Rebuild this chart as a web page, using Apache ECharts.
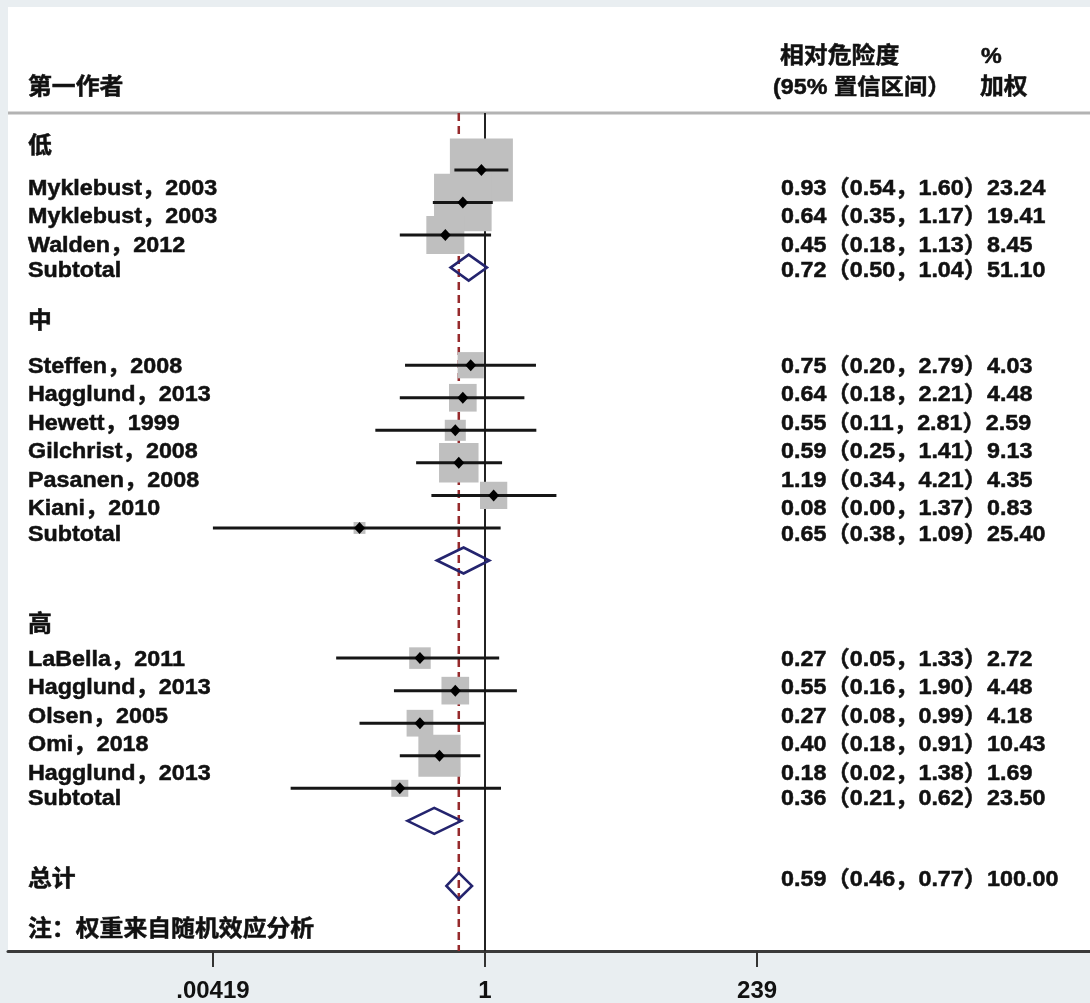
<!DOCTYPE html>
<html>
<head>
<meta charset="utf-8">
<script src="https://cdn.jsdelivr.net/npm/echarts@6/dist/echarts.min.js"></script>
<style>
  html, body { margin: 0; padding: 0; background: #e9eef1; }
  #chart { width: 1090px; height: 1003px; }
</style>
</head>
<body>
<div id="chart"></div>
<script>
// ---------- data ----------
const groupNames = ['低', '中', '高'];
const studyLabels = [
  'Myklebust，2003', 'Myklebust，2003', 'Walden，2012',
  'Steffen，2008', 'Hagglund，2013', 'Hewett，1999', 'Gilchrist，2008', 'Pasanen，2008', 'Kiani，2010',
  'LaBella，2011', 'Hagglund，2013', 'Olsen，2005', 'Omi，2018', 'Hagglund，2013'
];
const studyGroup  = [0, 0, 0, 1, 1, 1, 1, 1, 1, 2, 2, 2, 2, 2];
const studyRR     = [0.93, 0.64, 0.45, 0.75, 0.64, 0.55, 0.59, 1.19, 0.08, 0.27, 0.55, 0.27, 0.40, 0.18];
const studyLow    = [0.54, 0.35, 0.18, 0.20, 0.18, 0.11, 0.25, 0.34, 0.00, 0.05, 0.16, 0.08, 0.18, 0.02];
const studyHigh   = [1.60, 1.17, 1.13, 2.79, 2.21, 2.81, 1.41, 4.21, 1.37, 1.33, 1.90, 0.99, 0.91, 1.38];
const studyWeight = [23.24, 19.41, 8.45, 4.03, 4.48, 2.59, 9.13, 4.35, 0.83, 2.72, 4.48, 4.18, 10.43, 1.69];

const subtotalRR     = [0.72, 0.65, 0.36];
const subtotalLow    = [0.50, 0.38, 0.21];
const subtotalHigh   = [1.04, 1.09, 0.62];
const subtotalWeight = [51.10, 25.40, 23.50];

const overallRR = 0.59, overallLow = 0.46, overallHigh = 0.77, overallWeight = 100.00;

const xTickValues = [1 / 239, 1, 239];
const xTickLabels = ['.00419', '1', '239'];

// ---------- layout ----------
const FONT_FAMILY = '"Liberation Sans", Arial, "Noto Sans CJK SC", sans-serif';
const FONT_SIZE = 22;
const CJK_FONT_SIZE = 22.5;
const TEXT_SCALE_X = 1.06;
const TEXT_COLOR = '#111';
const LEFT_X = 28, RIGHT_X = 781;
const X_LOG_MIN = -4.1696, X_LOG_MAX = 5.2885;   // axis span, in decades
const BOX_SCALE = 13.07;                          // box side (px) per sqrt(weight)
const DIAMOND_HALF_H = 13;

// table rows used by the plotted marks: heading, studies, subtotal, blank line per group
let r = -1;
const headRow = [], studyRow = [], subRow = [];
groupNames.forEach((g, gi) => {
  headRow[gi] = r++;
  studyGroup.forEach((sg, i) => { if (sg === gi) studyRow[i] = r++; });
  subRow[gi] = r++;
  r++;
});
const overallRow = r;

// text lines sit on a slightly tighter pitch than the plotted rows
const TEXT_STEP = 0.875;
const textFirst = [0.58, 6.05, 15.05];
const textHead = [-0.71, 4.67, 13.98];
const TEXT_TOTAL = 21.82, TEXT_NOTE = 23.35;

const fmt = v => v.toFixed(2);
const statText = (rr, lo, hi, w) => `${fmt(rr)}（${fmt(lo)}，${fmt(hi)}）${fmt(w)}`;

const textItems = [];
groupNames.forEach((g, gi) => {
  textItems.push({ col: 0, row: textHead[gi], text: g });
  let k = 0;
  studyGroup.forEach((sg, i) => {
    if (sg !== gi) return;
    const tr = textFirst[gi] + k * TEXT_STEP;
    textItems.push({ col: 0, row: tr, text: studyLabels[i] });
    textItems.push({ col: 1, row: tr, text: statText(studyRR[i], studyLow[i], studyHigh[i], studyWeight[i]) });
    k++;
  });
  const sr = textFirst[gi] + k * TEXT_STEP - 0.1;
  textItems.push({ col: 0, row: sr, text: 'Subtotal' });
  textItems.push({ col: 1, row: sr, text: statText(subtotalRR[gi], subtotalLow[gi], subtotalHigh[gi], subtotalWeight[gi]) });
});
textItems.push({ col: 0, row: TEXT_TOTAL, text: '总计' });
textItems.push({ col: 1, row: TEXT_TOTAL, text: statText(overallRR, overallLow, overallHigh, overallWeight) });
textItems.push({ col: 0, row: TEXT_NOTE, text: '注：权重来自随机效应分析' });

const xMin = Math.pow(10, X_LOG_MIN);
const clampLow = v => Math.max(v, xTickValues[0]);

const studyData = studyRR.map((v, i) => [v, studyRow[i], clampLow(studyLow[i]), studyHigh[i], studyWeight[i]]);
const diamondData = subtotalRR.map((v, gi) => [v, subRow[gi], subtotalLow[gi], subtotalHigh[gi]])
  .concat([[overallRR, overallRow, overallLow, overallHigh]]);

const isCJKOnly = s => /^[\u3000-\u9fff\uff00-\uffef]+$/.test(s);
const textStyle = (text) => ({
  text, fill: TEXT_COLOR, fontFamily: FONT_FAMILY,
  fontSize: isCJKOnly(text) ? CJK_FONT_SIZE : FONT_SIZE, fontWeight: 'bold',
  stroke: TEXT_COLOR, lineWidth: 0.5,
  textAlign: 'left', textVerticalAlign: 'middle'
});
const headText = (x, y, text) => ({ type: 'text', x, y, scaleX: TEXT_SCALE_X, style: textStyle(text), z: 10 });

const chart = echarts.init(document.getElementById('chart'), null, { renderer: 'canvas' });
chart.setOption({
  backgroundColor: '#e9eef1',
  animation: false,
  graphic: [
    { type: 'rect', shape: { x: 8, y: 7, width: 1082, height: 944 }, style: { fill: '#ffffff' }, z: -10 },
    { type: 'line', shape: { x1: 8, y1: 113, x2: 1090, y2: 113 }, style: { stroke: '#b3b3b3', lineWidth: 3 }, z: -5 },
    headText(LEFT_X, 88, '第一作者'),
    headText(780, 57, '相对危险度'),
    headText(773, 88, '(95% 置信区间）'),
    headText(981, 57, '%'),
    headText(980, 88, '加权')
  ],
  grid: { left: 8, right: 0, top: 113, bottom: 52, containLabel: false },
  xAxis: {
    type: 'log', logBase: 10, min: xMin, max: Math.pow(10, X_LOG_MAX),
    axisLine: { show: true, onZero: false, lineStyle: { color: '#3a3a3a', width: 3 } },
    axisTick: { show: true, customValues: xTickValues, length: 16, lineStyle: { color: '#333', width: 2 } },
    axisLabel: {
      customValues: xTickValues, margin: 28, color: TEXT_COLOR, fontSize: 24, fontWeight: 'bold',
      fontFamily: FONT_FAMILY,
      formatter: v => {
        const i = xTickValues.findIndex(t => Math.abs(Math.log10(t) - Math.log10(v)) < 1e-3);
        return i >= 0 ? xTickLabels[i] : '';
      }
    },
    splitLine: { show: false }, minorTick: { show: false }
  },
  yAxis: { type: 'value', inverse: true, min: -1.75, max: 24, show: false },
  series: [
    { // null line at RR = 1 and dashed line at the pooled estimate
      type: 'custom', z: 1, silent: true,
      data: [[1, 0], [overallRR, 0]],
      encode: { x: 0, y: 1 },
      renderItem(params, api) {
        const x = api.coord([api.value(0), 0])[0];
        const cs = params.coordSys;
        const isNull = params.dataIndex === 0;
        return {
          type: 'line',
          shape: { x1: x, y1: cs.y, x2: x, y2: cs.y + cs.height },
          style: isNull ? { stroke: '#222', lineWidth: 2 } : { stroke: '#962a2c', lineWidth: 2.5, lineDash: [8, 5] }
        };
      }
    },
    { // weight boxes
      type: 'custom', z: 2, silent: true,
      data: studyData, encode: { x: 0, y: 1 },
      renderItem(params, api) {
        const c = api.coord([api.value(0), api.value(1)]);
        const s = BOX_SCALE * Math.sqrt(api.value(4));
        return { type: 'rect', shape: { x: c[0] - s / 2, y: c[1] - s / 2, width: s, height: s }, style: { fill: '#bfbfbf' } };
      }
    },
    { // confidence intervals and point estimates
      type: 'custom', z: 3, silent: true,
      data: studyData, encode: { x: 0, y: 1 },
      renderItem(params, api) {
        const row = api.value(1);
        const c = api.coord([api.value(0), row]);
        const l = api.coord([api.value(2), row]);
        const h = api.coord([api.value(3), row]);
        return {
          type: 'group',
          children: [
            { type: 'line', shape: { x1: l[0], y1: c[1], x2: h[0], y2: c[1] }, style: { stroke: '#161616', lineWidth: 3 } },
            { type: 'polygon', shape: { points: [[c[0] - 5.5, c[1]], [c[0], c[1] - 6], [c[0] + 5.5, c[1]], [c[0], c[1] + 6]] }, style: { fill: '#000' } }
          ]
        };
      }
    },
    { // subtotal and overall diamonds
      type: 'custom', z: 3, silent: true,
      data: diamondData, encode: { x: 0, y: 1 },
      renderItem(params, api) {
        const row = api.value(1);
        const c = api.coord([api.value(0), row]);
        const l = api.coord([api.value(2), row]);
        const h = api.coord([api.value(3), row]);
        return {
          type: 'polygon',
          shape: { points: [[l[0], c[1]], [c[0], c[1] - DIAMOND_HALF_H], [h[0], c[1]], [c[0], c[1] + DIAMOND_HALF_H]] },
          style: { fill: 'none', stroke: '#24246e', lineWidth: 2.6 }
        };
      }
    },
    { // table text
      type: 'custom', z: 4, silent: true,
      data: textItems.map(t => [1, t.row]), encode: { x: 0, y: 1 },
      renderItem(params, api) {
        const t = textItems[params.dataIndex];
        const y = api.coord([1, t.row])[1];
        return { type: 'text', x: t.col === 0 ? LEFT_X : RIGHT_X, y, scaleX: TEXT_SCALE_X, style: textStyle(t.text) };
      }
    }
  ]
});
</script>
</body>
</html>
